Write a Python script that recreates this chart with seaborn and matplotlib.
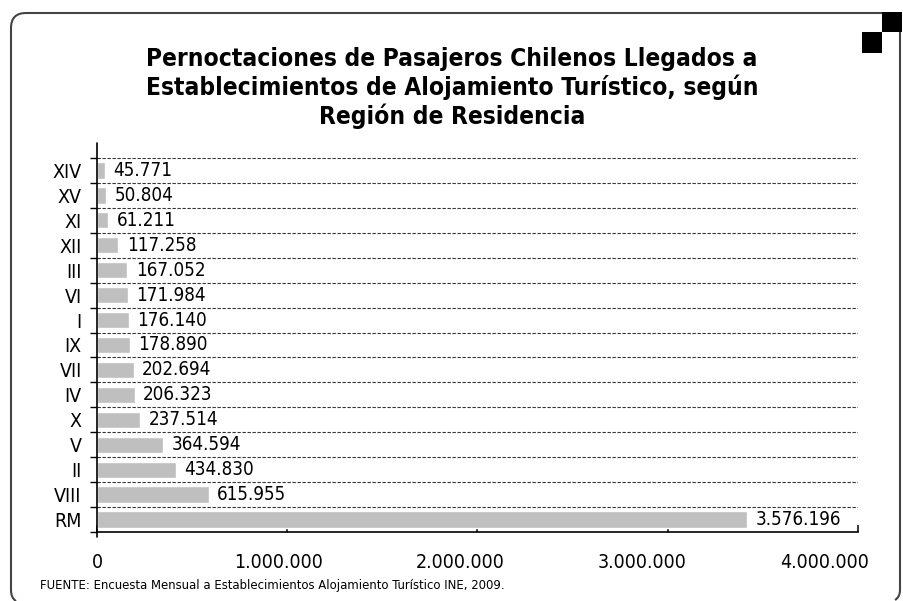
import matplotlib
matplotlib.use("Agg")
import matplotlib.pyplot as plt
import seaborn as sns
import pandas as pd
from matplotlib.path import Path
from matplotlib.patches import PathPatch, Rectangle
from matplotlib.lines import Line2D
from matplotlib import font_manager
from matplotlib.font_manager import FontProperties

regions = ["XIV", "XV", "XI", "XII", "III", "VI", "I", "IX", "VII", "IV", "X", "V", "II", "VIII", "RM"]
values = [45771, 50804, 61211, 117258, 167052, 171984, 176140, 178890, 202694, 206323, 237514, 364594, 434830, 615955, 3576196]
x_ticks = [0, 1000000, 2000000, 3000000, 4000000]
title = "Pernoctaciones de Pasajeros Chilenos Llegados a\nEstablecimientos de Alojamiento Turístico, según\nRegión de Residencia"
source = "FUENTE: Encuesta Mensual a Establecimientos Alojamiento Turístico INE, 2009."

def fmt(v):
    return f"{v:,}".replace(",", ".")

# look for a condensed / narrow font
reg_file, bold_file = None, None
for f in font_manager.fontManager.ttflist:
    fn = f.fname.lower()
    if ("narrow" in fn or "condensed" in fn) and "mono" not in fn and "serif" not in fn \
            and "oblique" not in fn and "italic" not in fn:
        isbold = ("bold" in fn) or ("black" in fn) or (isinstance(f.weight, int) and f.weight >= 600)
        if isbold and bold_file is None:
            bold_file = f.fname
        elif not isbold and reg_file is None:
            reg_file = f.fname

have_narrow = reg_file is not None

def fp(size, bold=False):
    if bold and bold_file:
        return FontProperties(fname=bold_file, size=size)
    if reg_file:
        return FontProperties(fname=reg_file, size=size)
    return FontProperties(family="Liberation Sans", size=size, weight="bold" if bold else "normal")

sns.set_theme(style="white")
plt.rcParams["font.family"] = ["Liberation Sans", "DejaVu Sans"]
plt.rcParams["text.color"] = "black"
plt.rcParams["xtick.color"] = "black"
plt.rcParams["ytick.color"] = "black"

W, H = 904, 601
fig = plt.figure(figsize=(W / 100, H / 100), dpi=100)
ax = fig.add_axes([97 / W, 1 - 532 / H, (858 - 97) / W, (532 - 158) / H])

df = pd.DataFrame({"region": regions, "value": values})
sns.barplot(data=df, x="value", y="region", order=regions, orient="h",
            color="#c0bfbf", saturation=1, width=0.65, ax=ax)

lab_size = 14 if have_narrow else 13
val_size = 13.5 if have_narrow else 12.5

# value scale of the original: labels spaced a bit tighter than the axis tick marks
xmax = 4185000
ax.set_xlim(0, xmax)
ax.set_ylim(len(regions) - 0.5, -0.5)
ax.xaxis.remove_overlapping_locs = False
# tick marks: evenly over the axis line
ax.set_xticks([xmax * k / 4 for k in range(5)])
ax.set_xticklabels([])
ax.tick_params(axis="x", which="major", direction="in", length=5, width=1.1, color="black", bottom=True)
# labels: at the data values
ax.set_xticks(x_ticks, minor=True)
ax.set_xticklabels([fmt(t) for t in x_ticks], minor=True)
ax.tick_params(axis="x", which="minor", length=0, pad=15, bottom=True)
for t in ax.get_xticklabels(minor=True):
    t.set_fontproperties(fp(lab_size))
    t.set_color("black")
for t in ax.get_yticklabels():
    t.set_fontproperties(fp(lab_size))
    t.set_color("black")
ax.set_xlabel("")
ax.set_ylabel("")
ax.tick_params(axis="y", which="major", length=0, pad=11)
ax.set_yticks([i - 0.5 for i in range(len(regions) + 1)], minor=True)
ax.tick_params(axis="y", which="minor", direction="out", length=5, width=1, color="black", left=True)

for s in ["top", "right", "left"]:
    ax.spines[s].set_visible(False)
ax.spines["bottom"].set_color("black")
ax.spines["bottom"].set_linewidth(1.2)

ax.add_line(Line2D([0, 0], [1 + 15 / 374, -5 / 374], transform=ax.transAxes,
                   color="black", lw=1.2, clip_on=False))

for i in range(len(regions)):
    ax.axhline(i - 0.5, color="#333333", lw=0.8, ls=(0, (3, 1.5)), zorder=0)

txts = ax.bar_label(ax.containers[0], labels=[fmt(v) for v in values], padding=6)
for t in txts:
    t.set_fontproperties(fp(val_size))
    t.set_color("black")

fig.text(0.5, 1 - 88 / H, title, ha="center", va="center",
         fontproperties=fp(17.6 if have_narrow else 16, bold=True),
         linespacing=1.18, color="black")
fig.text(40 / W, 1 - 585 / H, source, ha="left", va="center",
         fontproperties=fp(9.4 if have_narrow else 8.5), color="black")

# frame
r = 15
ec = "#444444"
verts = [((11 + 5) / W, 1 - 601 / H), (11 / W, 1 - 598 / H), (11 / W, 1 - 590 / H),
         (11 / W, 1 - (13 + r) / H),
         (11 / W, 1 - 13 / H), ((11 + r) / W, 1 - 13 / H),
         (882 / W, 1 - 13 / H)]
codes = [Path.MOVETO, Path.CURVE3, Path.CURVE3, Path.LINETO, Path.CURVE3, Path.CURVE3, Path.LINETO]
fig.add_artist(PathPatch(Path(verts, codes), fill=False, edgecolor=ec, lw=1.5,
                         transform=fig.transFigure))
verts2 = [(900 / W, 1 - 32 / H), (900 / W, 1 - 590 / H),
          (900 / W, 1 - 597 / H), (895 / W, 1 - 600 / H)]
codes2 = [Path.MOVETO, Path.LINETO, Path.CURVE3, Path.CURVE3]
fig.add_artist(PathPatch(Path(verts2, codes2), fill=False, edgecolor=ec, lw=1.5,
                         transform=fig.transFigure))
fig.add_artist(Rectangle((882 / W, 1 - 32 / H), 20 / W, 20 / H, transform=fig.transFigure,
                         facecolor="black", edgecolor="none"))
fig.add_artist(Rectangle((862 / W, 1 - 53 / H), 20 / W, 21 / H, transform=fig.transFigure,
                         facecolor="black", edgecolor="none"))

fig.savefig("out.png", dpi=100)
